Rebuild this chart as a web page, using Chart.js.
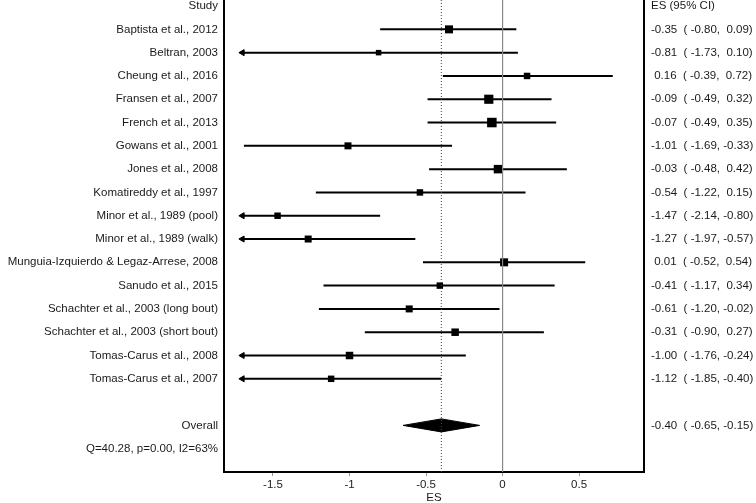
<!DOCTYPE html>
<html>
<head>
<meta charset="utf-8">
<script src="https://cdn.jsdelivr.net/npm/chart.js@4.4.0/dist/chart.umd.min.js"></script>
<style>
  html, body { margin: 0; padding: 0; background: #fff; }
  #wrap { width: 756px; height: 503px; }
</style>
</head>
<body>
<div id="wrap"><canvas id="forestChart"></canvas></div>
<script>
// study rows, top to bottom
var studies = [
  'Baptista et al., 2012',
  'Beltran, 2003',
  'Cheung et al., 2016',
  'Fransen et al., 2007',
  'French et al., 2013',
  'Gowans et al., 2001',
  'Jones et al., 2008',
  'Komatireddy et al., 1997',
  'Minor et al., 1989 (pool)',
  'Minor et al., 1989 (walk)',
  'Munguia-Izquierdo & Legaz-Arrese, 2008',
  'Sanudo et al., 2015',
  'Schachter et al., 2003 (long bout)',
  'Schachter et al., 2003 (short bout)',
  'Tomas-Carus et al., 2008',
  'Tomas-Carus et al., 2007'
];
var es     = [-0.35, -0.81,  0.16, -0.09, -0.07, -1.01, -0.03, -0.54, -1.47, -1.27,  0.01, -0.41, -0.61, -0.31, -1.00, -1.12];
var ciLow  = [-0.80, -1.73, -0.39, -0.49, -0.49, -1.69, -0.48, -1.22, -2.14, -1.97, -0.52, -1.17, -1.20, -0.90, -1.76, -1.85];
var ciHigh = [ 0.09,  0.10,  0.72,  0.32,  0.35, -0.33,  0.42,  0.15, -0.80, -0.57,  0.54,  0.34, -0.02,  0.27, -0.24, -0.40];
// relative weight (%) - estimated from square sizes
var weights = [7.2, 3.4, 4.7, 9.4, 10.2, 5.5, 8.1, 4.7, 4.7, 5.5, 7.2, 4.7, 5.5, 6.3, 6.3, 4.7];

var overallEs = -0.40, overallLow = -0.65, overallHigh = -0.15;
var heterogeneity = 'Q=40.28, p=0.00, I2=63%';
var xTicks = [-1.5, -1, -0.5, 0, 0.5];
var xMin = -1.82, xMax = 0.924;
var clipLow = -1.7;   // CIs below this get an arrow

// row layout: 0 header, 1..16 studies, 18 overall, 19 heterogeneity
var overallRow = 18, hetRow = 19;
var yMin = -0.26, yMax = 20;

function pad(v, w) {
  var s = v.toFixed(2);
  while (s.length < w) s = ' ' + s;
  return s;
}
function ciText(e, l, h) {
  return pad(e, 5) + '  (' + pad(l, 6) + ',' + pad(h, 6) + ')';
}

var leftLabels = { 0: 'Study' };
var rightLabels = { 0: 'ES (95% CI)' };
studies.forEach(function (name, i) {
  leftLabels[i + 1] = name;
  rightLabels[i + 1] = ciText(es[i], ciLow[i], ciHigh[i]);
});
leftLabels[overallRow] = 'Overall';
rightLabels[overallRow] = ciText(overallEs, overallLow, overallHigh);
leftLabels[hetRow] = heterogeneity;

var rowTicks = [];
for (var r = 0; r <= hetRow; r++) rowTicks.push(r);

Chart.defaults.font.family = "'Liberation Sans', Arial, sans-serif";
Chart.defaults.font.size = 11.5;
Chart.defaults.color = '#1a1a1a';

var datasets = [];

// reference lines: overall effect (dotted) and null effect
datasets.push({
  type: 'line',
  data: [{ x: overallEs, y: yMin }, { x: overallEs, y: yMax }],
  borderColor: '#444', borderWidth: 1, borderDash: [1, 2], pointRadius: 0
});
datasets.push({
  type: 'line',
  data: [{ x: 0, y: yMin }, { x: 0, y: yMax }],
  borderColor: '#888', borderWidth: 1, pointRadius: 0
});

// CI lines
studies.forEach(function (name, i) {
  datasets.push({
    type: 'line',
    data: [{ x: Math.max(ciLow[i], clipLow), y: i + 1 }, { x: ciHigh[i], y: i + 1 }],
    borderColor: '#000', borderWidth: 2, pointRadius: 0
  });
});

// arrows for clipped CIs
var arrows = [];
studies.forEach(function (name, i) {
  if (ciLow[i] < clipLow) arrows.push({ x: clipLow, y: i + 1 });
});
datasets.push({
  type: 'scatter',
  data: arrows,
  pointStyle: 'triangle',
  rotation: 270,
  pointRadius: 3.5,
  backgroundColor: '#000', borderColor: '#000', borderWidth: 1
});

// effect size squares, area follows weight
datasets.push({
  type: 'scatter',
  data: es.map(function (v, i) { return { x: v, y: i + 1 }; }),
  pointStyle: 'rect',
  pointRadius: weights.map(function (w) { return Math.sqrt(w * 8.9) / 1.414; }),
  backgroundColor: '#000', borderWidth: 0
});

// overall diamond
datasets.push({
  type: 'line',
  data: [
    { x: overallLow, y: overallRow },
    { x: overallEs, y: overallRow - 0.28 },
    { x: overallHigh, y: overallRow },
    { x: overallEs, y: overallRow + 0.28 },
    { x: overallLow, y: overallRow }
  ],
  borderColor: '#000', borderWidth: 1, backgroundColor: '#000',
  fill: 'shape', pointRadius: 0, tension: 0
});

function noPad(scale) {
  scale.paddingTop = 0; scale.paddingBottom = 0;
  scale.paddingLeft = 0; scale.paddingRight = 0;
}

var ctx = document.getElementById('forestChart').getContext('2d');
var forestChart = new Chart(ctx, {
  type: 'scatter',
  data: { datasets: datasets },
  options: {
    responsive: true,
    maintainAspectRatio: false,
    animation: false,
    layout: { padding: 0, autoPadding: false },
    plugins: {
      legend: { display: false },
      tooltip: { enabled: false }
    },
    scales: {
      x: {
        type: 'linear',
        min: xMin, max: xMax,
        afterBuildTicks: function (scale) {
          scale.ticks = xTicks.map(function (v) { return { value: v }; });
        },
        afterFit: function (scale) { scale.height = 31; noPad(scale); },
        ticks: {
          padding: 2, color: '#222',
          callback: function (v) { return String(v); }
        },
        grid: { drawOnChartArea: false, drawTicks: true, tickLength: 4, color: '#999' },
        border: { display: true, color: '#000', width: 2 },
        title: { display: true, text: 'ES', padding: { top: 0, bottom: -1 }, font: { lineHeight: 1 } }
      },
      y: {
        type: 'linear', position: 'left', reverse: true,
        min: yMin, max: yMax,
        afterBuildTicks: function (scale) {
          scale.ticks = rowTicks.map(function (v) { return { value: v }; });
        },
        afterFit: function (scale) { scale.width = 224; noPad(scale); },
        ticks: {
          autoSkip: false, padding: 6,
          callback: function (v) { return leftLabels[v] || ''; }
        },
        grid: { display: false, drawTicks: false },
        border: { display: true, color: '#000', width: 2 }
      },
      y2: {
        type: 'linear', position: 'right', reverse: true,
        min: yMin, max: yMax,
        afterBuildTicks: function (scale) {
          scale.ticks = rowTicks.map(function (v) { return { value: v }; });
        },
        afterFit: function (scale) { scale.width = 112; noPad(scale); },
        ticks: {
          autoSkip: false, padding: 7,
          callback: function (v) { return rightLabels[v] || ''; }
        },
        grid: { display: false, drawTicks: false },
        border: { display: true, color: '#000', width: 2 }
      }
    }
  }
});
</script>
</body>
</html>
